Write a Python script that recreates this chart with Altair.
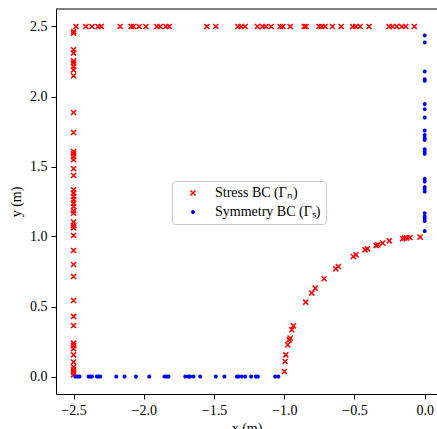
import altair as alt
import pandas as pd

# Stress BC (Gamma_n): left edge x=-2.5, top edge y=2.5, quarter-circle arc
left_y = [2.464, 2.452, 2.334, 2.31, 2.255, 2.239, 2.214, 2.19, 2.148, 1.886, 1.743,
          1.607, 1.591, 1.571, 1.548, 1.484, 1.436, 1.334, 1.31, 1.286, 1.262, 1.238,
          1.214, 1.186, 1.167, 1.103, 1.079, 1.062, 1.007, 0.9, 0.8, 0.714, 0.543,
          0.429, 0.364, 0.238, 0.221, 0.198, 0.155, 0.103, 0.067, 0.048, 0.031, 0.012]
top_x = [-2.483, -2.412, -2.369, -2.326, -2.303, -2.168, -2.090, -2.073, -2.033, -1.985,
         -1.907, -1.883, -1.843, -1.819, -1.551, -1.487, -1.330, -1.307, -1.278, -1.191,
         -1.155, -1.131, -1.093, -1.029, -1.010, -0.958, -0.857, -0.845, -0.752, -0.733,
         -0.709, -0.657, -0.595, -0.512, -0.491, -0.460, -0.396, -0.254, -0.230, -0.199,
         -0.164, -0.135, -0.074]
arc_x = [-0.999, -0.994, -0.989, -0.975, -0.965, -0.958, -0.946, -0.935, -0.847, -0.804,
         -0.780, -0.716, -0.633, -0.615, -0.508, -0.489, -0.425, -0.408, -0.346, -0.334,
         -0.299, -0.252, -0.157, -0.145, -0.128, -0.105, -0.033]
arc_y = [0.036, 0.107, 0.155, 0.226, 0.262, 0.274, 0.334, 0.362, 0.531, 0.596,
         0.631, 0.698, 0.769, 0.786, 0.857, 0.869, 0.905, 0.912, 0.936, 0.941,
         0.953, 0.969, 0.984, 0.989, 0.989, 0.993, 0.996]

# Symmetry BC (Gamma_s): bottom edge y=0, right edge x=0
bottom_x = [-2.488, -2.472, -2.457, -2.393, -2.381, -2.369, -2.334, -2.322, -2.310,
            -2.196, -2.137, -2.056, -1.961, -1.853, -1.836, -1.824, -1.705, -1.682,
            -1.670, -1.646, -1.599, -1.487, -1.426, -1.337, -1.326, -1.302, -1.278,
            -1.236, -1.202, -1.188, -1.065, -1.042]
right_y = [2.436, 2.386, 2.179, 2.124, 2.112, 1.946, 1.91, 1.85, 1.757, 1.726, 1.706,
           1.69, 1.624, 1.607, 1.591, 1.412, 1.393, 1.353, 1.339, 1.321, 1.167, 1.143,
           1.126, 1.11, 1.039]

STRESS = "Stress BC (Γₙ)"
SYM = "Symmetry BC (Γₛ)"
labels = [STRESS, SYM]

rows = []
for v in left_y:
    rows.append({"x": -2.5, "y": v, "bc": STRESS})
for v in top_x:
    rows.append({"x": v, "y": 2.5, "bc": STRESS})
for a, b in zip(arc_x, arc_y):
    rows.append({"x": a, "y": b, "bc": STRESS})
for v in bottom_x:
    rows.append({"x": v, "y": 0.0, "bc": SYM})
for v in right_y:
    rows.append({"x": 0.0, "y": v, "bc": SYM})
df = pd.DataFrame(rows)

FONT = "Liberation Serif"
cross = "M-1,-1L1,1M-1,1L1,-1"

leg = alt.Legend(
    title=None, orient="none", legendX=116, legendY=172,
    fillColor="white", strokeColor="#cccccc", cornerRadius=3, padding=5,
    labelFont=FONT, labelFontSize=14, labelColor="black",
    symbolOffset=9, labelOffset=15, rowPadding=5,
)

xscale = alt.Scale(domain=[-2.625, 0.0875], nice=False, zero=False)
yscale = alt.Scale(domain=[-0.125, 2.625], nice=False, zero=False)

points = alt.Chart(df).mark_point(filled=True, opacity=1, strokeWidth=1.5).encode(
    x=alt.X("x:Q", scale=xscale,
            axis=alt.Axis(values=[-2.5, -2.0, -1.5, -1.0, -0.5, 0.0], format=".1f",
                          title="x (m)", grid=False)),
    y=alt.Y("y:Q", scale=yscale,
            axis=alt.Axis(values=[0.0, 0.5, 1.0, 1.5, 2.0, 2.5], format=".1f",
                          title="y (m)", grid=False)),
    fill=alt.Fill("bc:N", scale=alt.Scale(domain=labels, range=["#ff0000", "#0000ff"]), legend=leg),
    stroke=alt.Stroke("bc:N", scale=alt.Scale(domain=labels, range=["#ff0000", "#0000ff"]), legend=leg),
    shape=alt.Shape("bc:N", scale=alt.Scale(domain=labels, range=[cross, "circle"]), legend=leg),
    size=alt.Size("bc:N", scale=alt.Scale(domain=labels, range=[26, 6]), legend=leg),
)

top_spine = alt.Chart(pd.DataFrame({"a": [0]})).mark_rule(color="black", strokeWidth=1).encode(
    x=alt.value(0), x2=alt.value(381), y=alt.value(0)
)

chart = alt.layer(points, top_spine).properties(
    width=381, height=385,
    autosize=alt.AutoSizeParams(type="none"),
    padding={"left": 56, "top": 9, "right": 0, "bottom": 35},
).configure_view(stroke=None).configure_axis(
    labelFont=FONT, labelFontSize=14, labelColor="black",
    titleFont=FONT, titleFontSize=14, titleColor="black", titleFontWeight="normal",
    domainColor="black", domainWidth=1, tickColor="black", tickWidth=1, tickSize=5,
    labelPadding=4,
).configure_axisY(titlePadding=6).configure_axisX(titlePadding=4)

chart.save("out.html", embed_options={"renderer": "svg", "actions": False})
